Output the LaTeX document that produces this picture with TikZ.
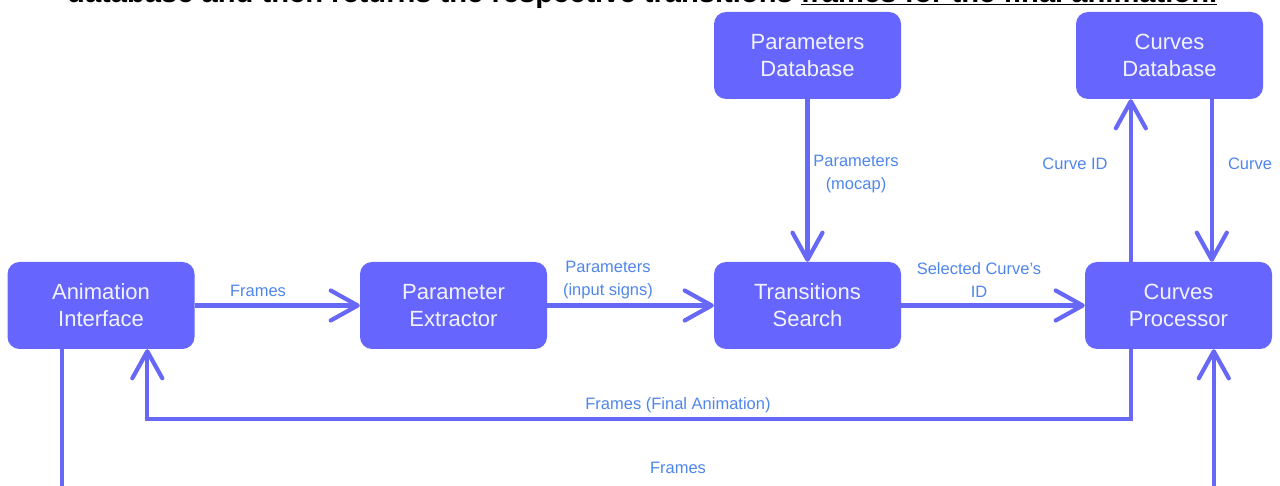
\documentclass[tikz,border=0pt]{standalone}
\usepackage{fontspec}
\setmainfont{Liberation Sans}
\usetikzlibrary{arrows.meta}
\definecolor{boxblue}{HTML}{6666FF}
\definecolor{lineblue}{HTML}{6868F6}
\definecolor{labblue}{HTML}{4F86EC}
\definecolor{boxtext}{HTML}{F2F2FF}
\tikzset{
  box/.style={fill=boxblue, draw=none, rounded corners=12pt, minimum width=187pt,
    minimum height=87pt, align=center, text=boxtext, inner sep=0pt,
    font=\fontsize{22}{27}\selectfont},
  lab/.style={text=labblue, align=center, inner sep=0pt, font=\fontsize{16.5}{23}\selectfont},
  conn/.style={draw=lineblue, line width=4.2pt},
  arr/.style={conn, -{Straight Barb[length=27pt, width=30pt, line width=4.2pt, round]}},
}
\begin{document}
\begin{tikzpicture}[x=1pt, y=-1pt]
\useasboundingbox (0,0) rectangle (1280,486);
\clip (0,0) rectangle (1280,486);
% cut-off caption at top
\node[anchor=base west, inner sep=0pt] (cap) at (67,2.3)
  {\resizebox{1150pt}{!}{\fontsize{24}{28}\selectfont\bfseries database and then returns the respective transitions \underline{frames for the final animation.}}};
% boxes
\node[box] (ai) at (101,305.5) {Animation\\Interface};
\node[box] (pe) at (453.5,305.5) {Parameter\\Extractor};
\node[box] (ts) at (807.5,305.5) {Transitions\\Search};
\node[box] (cp) at (1178.5,305.5) {Curves\\Processor};
\node[box] (pd) at (807.5,55.5) {Parameters\\Database};
\node[box] (cd) at (1169.5,55.5) {Curves\\Database};
% horizontal chain
\draw[arr] (ai.east) -- (pe.west);
\draw[arr] (pe.east) -- (ts.west);
\draw[arr] (ts.east) -- (cp.west);
% verticals
\draw[arr] (pd.south) -- (ts.north);
\draw[arr] ([xshift=46pt]cp.north west) -- ([xshift=46pt]cp.north west |- cd.south);
\draw[arr] ([xshift=136pt]cd.south west) -- ([xshift=136pt]cd.south west |- cp.north);
% feedback loops
\draw[arr] ([xshift=46pt]cp.south west) -- ++(0,70) -| ([xshift=140pt]ai.south west);
\draw[arr] ([xshift=55pt]ai.south west) -- ++(0,160) -| ([xshift=129pt]cp.south west);
% labels
\node[lab] (l1) at (258,291) {Frames};
\node[lab] (l2) at (608,280) {Parameters\\(input signs)};
\node[lab] (l3) at (979,280.5) {Selected Curve's\\ID};
\node[lab] (l4) at (856,174.5) {Parameters\\(mocap)};
\node[lab] (l5) at (1075,164) {Curve ID};
\node[lab] (l6) at (1250,164) {Curve};
\node[lab] (l7) at (678,405) {Frames (Final Animation)};
\node[lab] (l8) at (678,468) {Frames};
\end{tikzpicture}
\end{document}
